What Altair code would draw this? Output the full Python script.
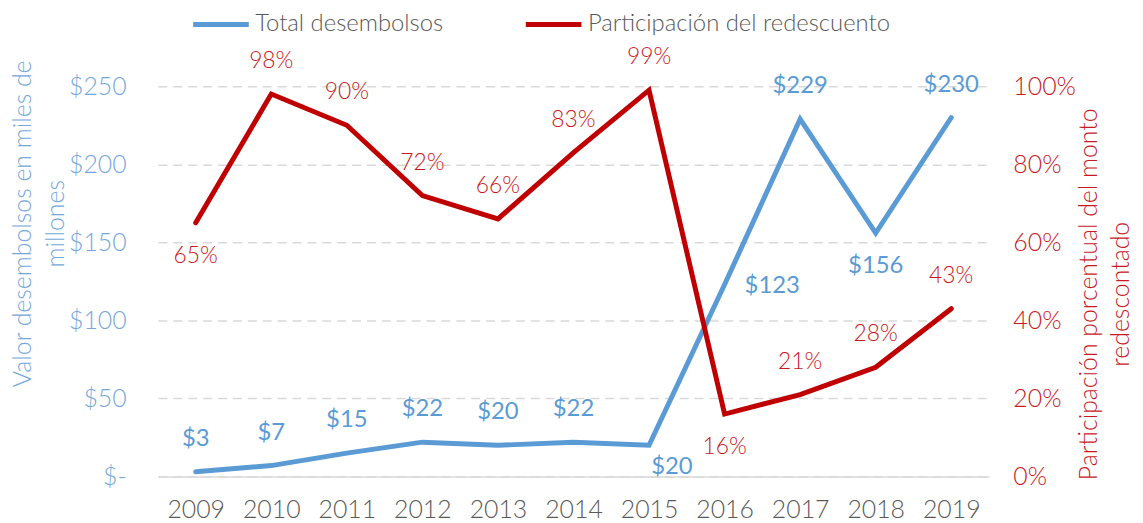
import altair as alt
import pandas as pd

# ---- data ----
years = ["2009", "2010", "2011", "2012", "2013", "2014", "2015", "2016", "2017", "2018", "2019"]
desembolsos = [3, 7, 15, 22, 20, 22, 20, 123, 229, 156, 230]
participacion = [0.65, 0.98, 0.90, 0.72, 0.66, 0.83, 0.99, 0.16, 0.21, 0.28, 0.43]
serie_names = ["Total desembolsos", "Participación del redescuento"]
left_ticks = [0, 50, 100, 150, 200, 250]
right_ticks = [0, 0.2, 0.4, 0.6, 0.8, 1.0]

# label placement keywords (where each data label sits around its point)
blue_place = ["above", "above", "above", "above", "above", "above",
              "below_right", "right", "above", "below", "above"]
red_place = ["below", "above", "above", "above", "above", "above",
             "above", "below", "above", "above", "above"]

BLUE = "#5B9BD5"
BLUE_AX = "#74A7DC"
RED = "#C00000"
RED_T = "#C8191E"
GRAY = "#595959"
GRID = "#D9D9D9"
FONT = "Lato"
FW = 300

df = pd.DataFrame({
    "year": years,
    "valor": desembolsos,
    "part": participacion,
    "bpos": blue_place,
    "rpos": red_place,
})

x_enc = alt.X(
    "year:O",
    scale=alt.Scale(type="point", padding=0.5),
    axis=alt.Axis(
        labelColor=GRAY, labelFont=FONT, labelFontSize=25, labelFontWeight=FW, labelPadding=21,
        labelAngle=0, ticks=False, tickSize=0, domainColor=GRID, domainWidth=1.5,
        grid=False, title=None,
    ),
    title=None,
)

color_scale = alt.Scale(domain=serie_names, range=[BLUE, RED])
legend = alt.Legend(
    title=None, orient="none", legendX=33, legendY=-93, direction="horizontal",
    columns=2, symbolType="stroke", symbolSize=3136, symbolStrokeWidth=5,
    labelFont=FONT, labelFontSize=24, labelFontWeight=FW, labelColor=GRAY, labelOffset=4,
    columnPadding=72, padding=0, labelLimit=600,
)
color_enc = alt.Color("serie:N", scale=color_scale, legend=legend)

left_axis = alt.Axis(
    orient="left", values=left_ticks,
    labelExpr="datum.value == 0 ? '$-' : '$' + datum.value",
    labelColor=BLUE_AX, labelFont=FONT, labelFontSize=25, labelFontWeight=FW, labelPadding=32,
    ticks=False, tickSize=0, domain=False,
    grid=True, gridColor=GRID, gridDash=[9, 6], gridWidth=1.5,
    title=["Valor desembolsos en miles de", "millones"],
    titleColor=BLUE_AX, titleFont=FONT, titleFontSize=25, titleFontWeight=FW,
    titleAngle=270, titleAlign="center", titleBaseline="alphabetic",
    titleX=-128, titleY=138, titleLineHeight=33,
)
right_axis = alt.Axis(
    orient="right", values=right_ticks, format=".0%",
    labelColor=RED_T, labelFont=FONT, labelFontSize=25, labelFontWeight=FW, labelPadding=24,
    ticks=False, tickSize=0, domain=False, grid=False,
    title=["Participación porcentual del monto", "redescontado"],
    titleColor=RED_T, titleFont=FONT, titleFontSize=25, titleFontWeight=FW,
    titleAngle=270, titleAlign="center", titleBaseline="alphabetic",
    titleX=108, titleY=209, titleLineHeight=32,
)

base = alt.Chart(df)

y_blue = alt.Y("valor:Q", scale=alt.Scale(domain=[0, 250], nice=False, zero=True), axis=left_axis)
y_red = alt.Y("part:Q", scale=alt.Scale(domain=[0, 1], nice=False, zero=True), axis=right_axis)

blue_line = base.mark_line(strokeWidth=5, strokeCap="round").encode(
    x=x_enc, y=y_blue, color=color_enc,
).transform_calculate(serie="'" + serie_names[0] + "'")
blue_txt_style = dict(font=FONT, fontSize=24, fontWeight=400, color=BLUE, baseline="middle", align="center")
btext = alt.Text("valor:Q", format="$,.0f")
blue_above = base.mark_text(dy=-33, **blue_txt_style).encode(
    x=x_enc, y=y_blue, text=btext).transform_filter(alt.datum.bpos == "above")
blue_below = base.mark_text(dy=33, **blue_txt_style).encode(
    x=x_enc, y=y_blue, text=btext).transform_filter(alt.datum.bpos == "below")
blue_below_right = base.mark_text(dx=23, dy=22, **blue_txt_style).encode(
    x=x_enc, y=y_blue, text=btext).transform_filter(alt.datum.bpos == "below_right")
blue_right = base.mark_text(dx=48, dy=2, **blue_txt_style).encode(
    x=x_enc, y=y_blue, text=btext).transform_filter(alt.datum.bpos == "right")

red_line = base.mark_line(strokeWidth=5, strokeCap="round").encode(
    x=x_enc, y=y_red, color=color_enc,
).transform_calculate(serie="'" + serie_names[1] + "'")
red_txt_style = dict(font=FONT, fontSize=23, fontWeight=FW, color=RED_T, baseline="middle", align="center")
rtext = alt.Text("part:Q", format=".0%")
red_above = base.mark_text(dy=-33, **red_txt_style).encode(
    x=x_enc, y=y_red, text=rtext).transform_filter(alt.datum.rpos == "above")
red_below = base.mark_text(dy=33, **red_txt_style).encode(
    x=x_enc, y=y_red, text=rtext).transform_filter(alt.datum.rpos == "below")

blue_layer = alt.layer(blue_line, blue_above, blue_below, blue_below_right, blue_right)
red_layer = alt.layer(red_line, red_above, red_below)

chart = alt.layer(blue_layer, red_layer).resolve_scale(y="independent").properties(
    width=837, height=393,
    autosize=alt.AutoSizeParams(type="none"),
    padding={"left": 151, "top": 77, "right": 147, "bottom": 45},
    background="white",
).configure_view(stroke=None)

chart.save("out.html", embed_options={"renderer": "svg", "actions": False})
